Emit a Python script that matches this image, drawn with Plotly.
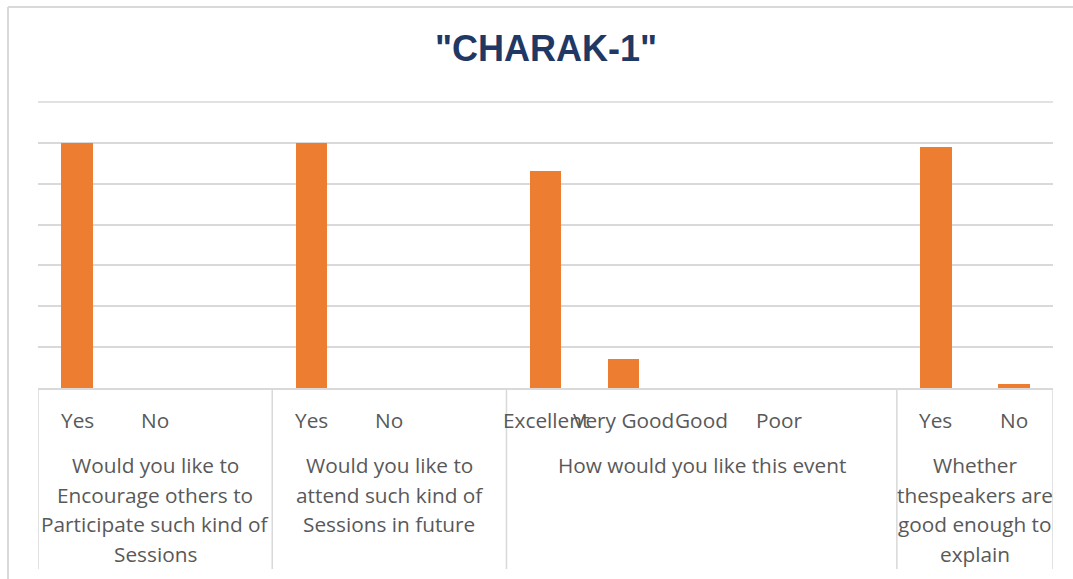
import plotly.graph_objects as go

# ---- data ----
categories = ["Yes", "No", "", "Yes", "No", "", "Excellent", "Very Good", "Good", "Poor", "", "Yes", "No"]
values = [120, 0, None, 120, 0, None, 106, 14, 0, 0, None, 118, 2]
group_labels = [
    "Would you like to<br>Encourage others to<br>Participate such kind of<br>Sessions",
    "Would you like to<br>attend such kind of<br>Sessions in future",
    "How would you like this event",
    "Whether<br>thespeakers are<br>good enough to<br>explain",
]
group_sizes = [3, 3, 5, 2]
title_text = '"CHARAK-1"'
y_max = 140
y_step = 20

W, H = 1073, 579
ML, MR, MT, MB = 38, 20, 102, 191
PW, PH = W - ML - MR, H - MT - MB

TEXT = "#595959"
GRID = "#d9d9d9"
FONT = "Open Sans"
FS = 20.8

xpos = [i + 0.5 for i in range(len(categories))]

fig = go.Figure()
fig.add_trace(go.Bar(
    x=xpos, y=values, width=0.4,
    marker=dict(color="#ED7D31", line=dict(width=0)),
    hoverinfo="y",
))

annotations = []
# category labels
for xp, c in zip(xpos, categories):
    if c:
        annotations.append(dict(x=xp, xref="x", y=0, yref="paper", text=c,
                                showarrow=False, yanchor="middle", yshift=-32,
                                font=dict(family=FONT, size=FS, color=TEXT)))

# group labels & dividers
shapes = []
start = 0
bounds = [0]
for lab, n in zip(group_labels, group_sizes):
    center = start + n / 2
    for k, line in enumerate(lab.split("<br>")):
        annotations.append(dict(x=center, xref="x", y=0, yref="paper", text=line,
                                showarrow=False, yanchor="middle",
                                yshift=-(77 + 29.5 * k),
                                font=dict(family=FONT, size=FS, color=TEXT)))
    start += n
    bounds.append(start)

div_bottom = -(569 - (H - MB)) / PH
for b in bounds:
    shapes.append(dict(type="line", xref="x", yref="paper", x0=b, x1=b,
                       y0=0, y1=div_bottom, line=dict(color=GRID, width=1.5)))

# top gridline at y_max (top of plot area; plotly omits gridline at range end)
shapes.append(dict(type="line", xref="paper", yref="paper", x0=0, x1=1, y0=1, y1=1,
                   layer="below", line=dict(color=GRID, width=1.5)))

# outer chart border (left + top)
bx = (8 - ML) / PW
by = ((H - MB) - 7) / PH
bb = -(H - (H - MB)) / PH
shapes.append(dict(type="line", xref="paper", yref="paper", x0=bx, x1=bx, y0=by, y1=bb,
                   line=dict(color=GRID, width=2)))
shapes.append(dict(type="line", xref="paper", yref="paper", x0=bx, x1=(W - ML) / PW + 0.01,
                   y0=by, y1=by, line=dict(color=GRID, width=2)))

# title
annotations.append(dict(x=0.5, xref="paper", y=((H - MB) - 48.5) / PH, yref="paper",
                        text="<b>" + title_text + "</b>", showarrow=False,
                        xanchor="center", yanchor="middle",
                        font=dict(family="Liberation Sans", size=36, color="#1F3864")))

fig.update_layout(
    width=W, height=H,
    margin=dict(l=ML, r=MR, t=MT, b=MB, pad=0),
    paper_bgcolor="white", plot_bgcolor="white",
    showlegend=False,
    annotations=annotations,
    shapes=shapes,
    xaxis=dict(range=[0, len(categories)], showticklabels=False, showgrid=False,
               zeroline=False, showline=True, linecolor=GRID, linewidth=1.5,
               ticks="", fixedrange=True),
    yaxis=dict(range=[0, y_max], dtick=y_step, showticklabels=False, showgrid=True,
               gridcolor=GRID, gridwidth=1.5, zeroline=False, ticks="", fixedrange=True),
    bargap=0,
)

fig.write_html("out.html", config={"displayModeBar": False},
               post_script="document.body.style.margin='0';document.body.style.overflow='hidden';")
